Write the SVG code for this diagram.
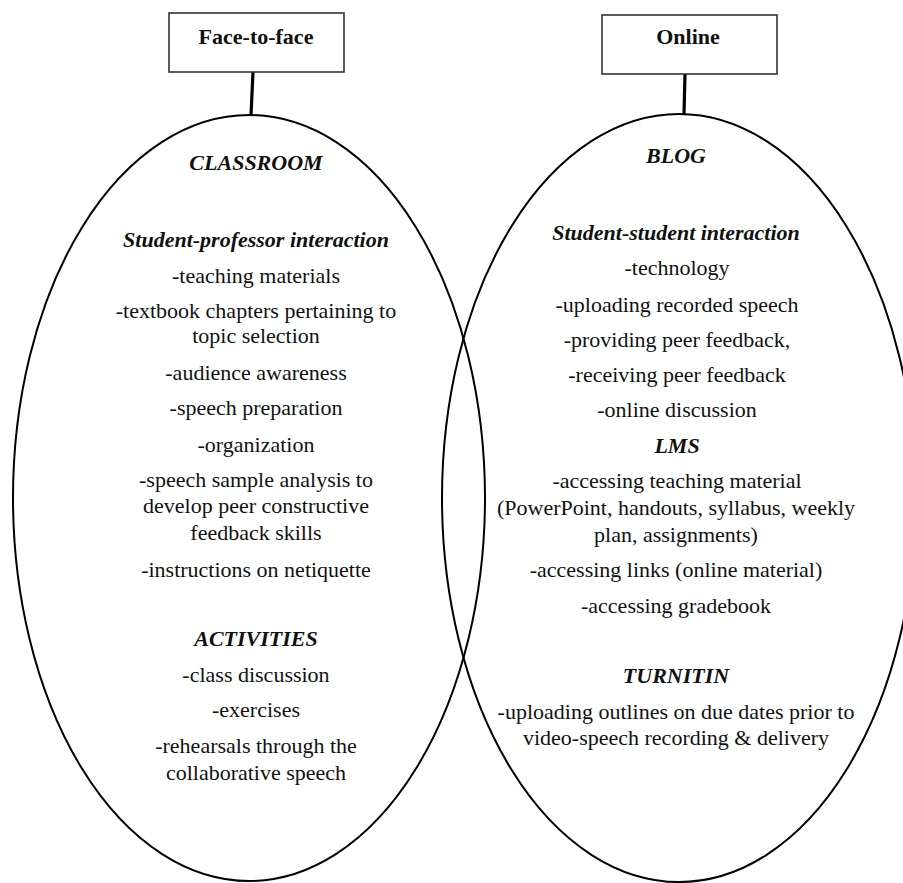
<svg xmlns="http://www.w3.org/2000/svg" width="903" height="883" viewBox="0 0 903 883" font-family="Liberation Serif, Tinos, DejaVu Serif, serif">
<style>
text{font-size:22px;fill:#111;text-anchor:middle}
.h{font-weight:bold;font-style:italic}
.b{font-weight:bold}
.box{fill:#fff;stroke:#333;stroke-width:1.6}
.ell{fill:none;stroke:#000;stroke-width:2}
.con{stroke:#000;stroke-width:3.2;fill:none}
</style>
<rect width="903" height="883" fill="#fff"/>
<g id="connectors">
<line class="con" x1="253" y1="72" x2="251" y2="115"/>
<line class="con" x1="685" y1="74" x2="684" y2="114"/>
</g>
<g id="face-to-face">
<rect class="box" x="169" y="13" width="175" height="59"/>
<text class="b" x="256" y="44" font-family="Liberation Serif, serif">Face-to-face</text>
</g>
<g id="online">
<rect class="box" x="602" y="15" width="175" height="59"/>
<text class="b" x="688" y="44" font-family="Liberation Serif, serif">Online</text>
</g>
<g id="classroom-ellipse" font-family="Liberation Serif, serif">
<ellipse class="ell" cx="249" cy="498" rx="236" ry="383"/>
<text class="h" x="256" y="170">CLASSROOM</text>
<text class="h" x="256" y="247">Student-professor interaction</text>
<text x="256" y="283">-teaching materials</text>
<text x="256" y="318">-textbook chapters pertaining to</text>
<text x="256" y="343">topic selection</text>
<text x="256" y="380">-audience awareness</text>
<text x="256" y="415">-speech preparation</text>
<text x="256" y="452">-organization</text>
<text x="256" y="487">-speech sample analysis to</text>
<text x="256" y="513">develop peer constructive</text>
<text x="256" y="540">feedback skills</text>
<text x="256" y="577">-instructions on netiquette</text>
<text class="h" x="256" y="646">ACTIVITIES</text>
<text x="256" y="682">-class discussion</text>
<text x="256" y="717">-exercises</text>
<text x="256" y="753">-rehearsals through the</text>
<text x="256" y="780">collaborative speech</text>
</g>
<g id="online-ellipse" font-family="Liberation Serif, serif">
<ellipse class="ell" cx="679" cy="498" rx="237" ry="384"/>
<text class="h" x="676" y="163">BLOG</text>
<text class="h" x="676" y="240">Student-student interaction</text>
<text x="677" y="275">-technology</text>
<text x="677" y="312">-uploading recorded speech</text>
<text x="677" y="347">-providing peer feedback,</text>
<text x="677" y="382">-receiving peer feedback</text>
<text x="677" y="417">-online discussion</text>
<text class="h" x="677" y="453">LMS</text>
<text x="677" y="488">-accessing teaching material</text>
<text x="676" y="515">(PowerPoint, handouts, syllabus, weekly</text>
<text x="676" y="542">plan, assignments)</text>
<text x="676" y="577">-accessing links (online material)</text>
<text x="676" y="613">-accessing gradebook</text>
<text class="h" x="676" y="683">TURNITIN</text>
<text x="676" y="719">-uploading outlines on due dates prior to</text>
<text x="676" y="745">video-speech recording &amp; delivery</text>
</g>
</svg>
